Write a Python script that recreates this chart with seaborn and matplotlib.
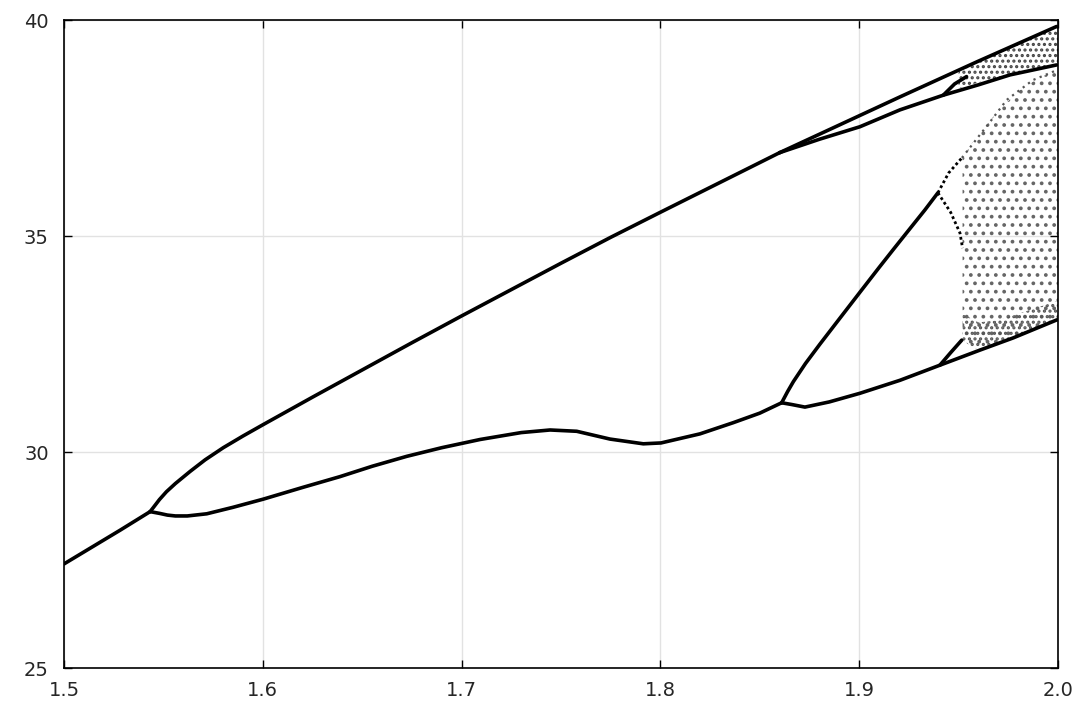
import matplotlib
matplotlib.use("Agg")
import matplotlib.pyplot as plt
import seaborn as sns

# branches of the bifurcation diagram
single_x = [1.500, 1.5282, 1.5433]
single_y = [27.41, 28.19, 28.62]

# first split: upper branch
up1_x = [1.5433, 1.5450, 1.5480, 1.5515, 1.5560, 1.5634, 1.5710, 1.5801, 1.5900, 1.6000,
         1.6250, 1.6500, 1.6750, 1.7000, 1.7250, 1.7500, 1.7750, 1.8000, 1.8300, 1.8600]
up1_y = [28.62, 28.72, 28.90, 29.08, 29.27, 29.55, 29.82, 30.10, 30.37, 30.63,
         31.27, 31.90, 32.53, 33.15, 33.76, 34.37, 34.97, 35.55, 36.24, 36.93]

# first split: lower branch
low1_x = [1.5433, 1.5480, 1.5520, 1.5560, 1.5620, 1.5718, 1.5850, 1.6003, 1.6200, 1.6388,
          1.6550, 1.6724, 1.6900, 1.7093, 1.7300, 1.7445, 1.7579, 1.7746, 1.7914, 1.8003,
          1.8199, 1.8367, 1.8500, 1.8610]
low1_y = [28.62, 28.58, 28.54, 28.52, 28.52, 28.57, 28.72, 28.91, 29.18, 29.43,
          29.67, 29.90, 30.10, 30.29, 30.45, 30.51, 30.48, 30.30, 30.19, 30.21,
          30.42, 30.68, 30.90, 31.14]

# top pair after the split near 1.86
top_hi_x = [1.8600, 1.9205, 1.9591, 1.9993]
top_hi_y = [36.93, 38.22, 39.03, 39.85]
top_lo_x = [1.8600, 1.8800, 1.9004, 1.9205, 1.9423, 1.9600, 1.9759, 1.9993]
top_lo_y = [36.93, 37.24, 37.53, 37.92, 38.26, 38.50, 38.73, 38.96]
top_br_x = [1.9423, 1.9480, 1.9540]
top_br_y = [38.26, 38.52, 38.69]

# second split of the lower branch near 1.861
up2_x = [1.8610, 1.8640, 1.8669, 1.8730, 1.8803, 1.8900, 1.9004, 1.9100, 1.9172, 1.9250, 1.9330, 1.9396]
up2_y = [31.14, 31.40, 31.63, 32.05, 32.50, 33.08, 33.70, 34.27, 34.69, 35.14, 35.60, 36.00]
low2_x = [1.8610, 1.8660, 1.8727, 1.8850, 1.9004, 1.9205, 1.9406, 1.9608, 1.9774, 1.9995]
low2_y = [31.14, 31.10, 31.04, 31.16, 31.36, 31.66, 32.01, 32.36, 32.64, 33.06]
br3_x = [1.9406, 1.9460, 1.9516]
br3_y = [32.01, 32.30, 32.59]

# period doubling near 1.94 (dotted branches)
dot_a_x = [1.9396, 1.9450, 1.9517, 1.9600, 1.9658, 1.9742, 1.9874, 2.0000]
dot_a_y = [36.00, 36.46, 36.81, 37.30, 37.64, 38.15, 38.61, 38.85]
dot_b_x = [1.9396, 1.9460, 1.9507, 1.9520]
dot_b_y = [36.00, 35.55, 35.07, 34.72]

# chaotic bands (edges)
band_top_x = [1.950, 1.960, 1.970, 1.980, 1.990, 2.000]
band_top_lo = [38.42, 38.55, 38.66, 38.77, 38.87, 38.96]
band_top_hi = [38.85, 39.05, 39.25, 39.45, 39.66, 39.87]

chaos_x = [1.952, 1.956, 1.960, 1.970, 1.980, 1.990, 2.000]
chaos_lo = [32.60, 32.45, 32.38, 32.52, 32.70, 32.88, 33.06]
chaos_hi = [36.80, 37.10, 37.35, 37.90, 38.35, 38.65, 38.85]
chaos_dense = [33.20, 33.10, 33.00, 33.05, 33.20, 33.35, 33.50]

x_ticks = [1.5, 1.6, 1.7, 1.8, 1.9, 2.0]
y_ticks = [25, 30, 35, 40]

sns.set_theme(style="white")
plt.rcParams["font.family"] = ["DejaVu Sans"]
plt.rcParams["hatch.linewidth"] = 1.5

fig = plt.figure(figsize=(10.8, 7.2), dpi=100)
ax = fig.add_axes([0.0593, 0.0722, 0.9203, 0.9])

# chaotic regions as dotted texture
ax.fill_between(chaos_x, chaos_lo, chaos_hi, facecolor="none", edgecolor="#666666",
                hatch="..", linewidth=0)
ax.fill_between(chaos_x, chaos_lo, chaos_dense, facecolor="none", edgecolor="#555555",
                hatch="...", linewidth=0)
ax.fill_between(band_top_x, band_top_lo, band_top_hi, facecolor="none", edgecolor="#444444",
                hatch="...", linewidth=0)

lw = 2.6
for xs, ys in [(single_x, single_y), (up1_x, up1_y), (low1_x, low1_y),
               (top_hi_x, top_hi_y), (top_lo_x, top_lo_y), (top_br_x, top_br_y),
               (up2_x, up2_y), (low2_x, low2_y), (br3_x, br3_y)]:
    sns.lineplot(x=xs, y=ys, sort=False, estimator=None, color="black", linewidth=lw, ax=ax)

sns.lineplot(x=dot_a_x[:3], y=dot_a_y[:3], sort=False, estimator=None, color="black",
             linewidth=2.0, linestyle=(0, (1, 1)), ax=ax)
sns.lineplot(x=dot_a_x[2:], y=dot_a_y[2:], sort=False, estimator=None, color="#555555",
             linewidth=1.6, linestyle=(0, (1, 2)), ax=ax)
sns.lineplot(x=dot_b_x, y=dot_b_y, sort=False, estimator=None, color="black",
             linewidth=2.0, linestyle=(0, (1, 1)), ax=ax)

ax.set_xlim(1.5, 2.0)
ax.set_ylim(25, 40)
ax.set_xticks(x_ticks)
ax.set_xticklabels([f"{v:.1f}" for v in x_ticks], fontsize=14)
ax.set_yticks(y_ticks)
ax.set_yticklabels([str(v) for v in y_ticks], fontsize=14)
ax.grid(True, color="#e2e2e2", linewidth=1.0)
for s in ax.spines.values():
    s.set_color("black")
    s.set_linewidth(1.2)
ax.tick_params(direction="in", length=6, width=1.0, color="black",
               top=True, right=True, bottom=True, left=True)
ax.tick_params(axis="x", pad=9)
ax.tick_params(axis="y", pad=11)
ax.set_xlabel("")
ax.set_ylabel("")

plt.savefig("out.png", dpi=100)
plt.close()
